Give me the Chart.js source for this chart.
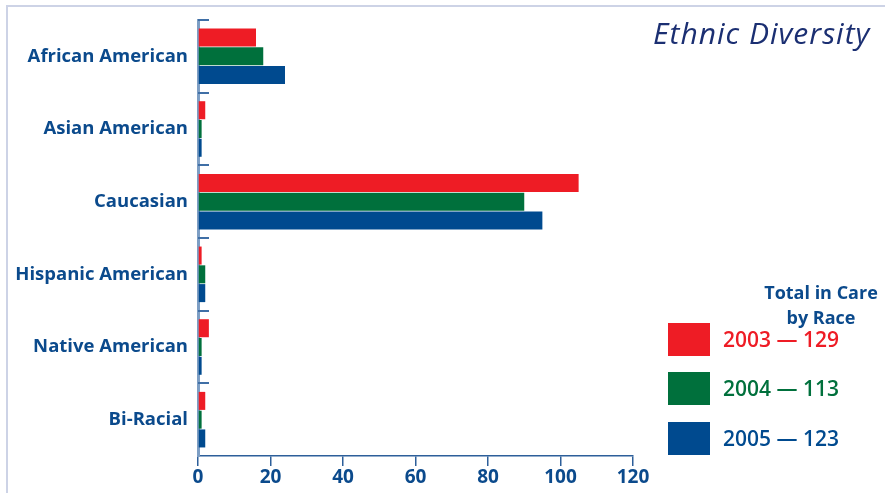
<!DOCTYPE html>
<html>
<head>
<meta charset="utf-8">
<script src="https://cdn.jsdelivr.net/npm/chart.js@4"></script>
<style>
  html, body { margin: 0; padding: 0; background: #fff; }
  #wrap { position: relative; width: 885px; height: 493px; font-family: "Open Sans", Lato, sans-serif; overflow: hidden; }
  #frame { position: absolute; left: 6px; top: 5px; right: -2px; bottom: -2px; border-top: 2px solid #cdd3e6; border-left: 2px solid #cdd3e6; }
  #c { position: absolute; left: 0; top: 0; }
  .title { position: absolute; left: 653px; top: 18px; font-size: 30px; line-height: 30px; letter-spacing: 1px; font-style: italic; color: #1b2f72; white-space: nowrap; }
  .lg-head { position: absolute; left: 741px; top: 280px; width: 160px; text-align: center; font-size: 18px; font-weight: bold; color: #0b4a8c; line-height: 25px; }
  .lg-row { position: absolute; left: 668px; height: 33px; }
  .lg-row i { position: absolute; left: 0; top: 0; width: 42px; height: 33px; }
  .lg-row b { position: absolute; left: 55px; top: 2px; font-size: 21px; white-space: nowrap; font-weight: 600; }
</style>
</head>
<body>
<div id="wrap">
  <div id="frame"></div>
  <canvas id="c" width="885" height="493"></canvas>
  <div class="title">Ethnic Diversity</div>
  <div class="lg-head">Total in Care<br>by Race</div>
  <div id="legend"></div>
</div>
<script>
// 카테고리와 연도별 값
const races = ['African American', 'Asian American', 'Caucasian', 'Hispanic American', 'Native American', 'Bi-Racial'];
const years = ['2003', '2004', '2005'];
const totals = [129, 113, 123];
const counts2003 = [16, 2, 105, 1, 3, 2];
const counts2004 = [18, 1, 90, 2, 1, 1];
const counts2005 = [24, 1, 95, 2, 1, 2];
const xTicks = [0, 20, 40, 60, 80, 100, 120];

const colors = ['#ee1c25', '#00703c', '#004a8f'];
const textBlue = '#0b4a8c';

// 범례 (HTML)
const legendEl = document.getElementById('legend');
const legendTops = [323, 372, 422];
years.forEach((y, i) => {
    const row = document.createElement('div');
    row.className = 'lg-row';
    row.style.top = legendTops[i] + 'px';
    row.innerHTML = `<i style="background:${colors[i]}"></i><b style="color:${colors[i]}">${y} \u2014 ${totals[i]}</b>`;
    legendEl.appendChild(row);
});

// 카테고리 경계에 안쪽으로 짧은 눈금
const innerTicks = {
    id: 'innerTicks',
    afterDraw(chart) {
        const y = chart.scales.y;
        const ctx = chart.ctx;
        const step = (y.bottom - y.top) / races.length;
        ctx.save();
        ctx.strokeStyle = '#3f6fa6';
        ctx.lineWidth = 2;
        for (let i = 0; i < races.length; i++) {
            const py = Math.round(y.top + i * step);
            ctx.beginPath();
            ctx.moveTo(y.right, py);
            ctx.lineTo(y.right + 11, py);
            ctx.stroke();
        }
        ctx.restore();
    }
};

const sets = [counts2003, counts2004, counts2005];
new Chart(document.getElementById('c'), {
    type: 'bar',
    data: {
        labels: races,
        datasets: sets.map((d, i) => ({
            label: years[i],
            data: d,
            backgroundColor: colors[i],
            borderWidth: 0,
            categoryPercentage: 0.775,
            barPercentage: 0.96
        }))
    },
    options: {
        indexAxis: 'y',
        responsive: false,
        animation: false,
        layout: { padding: { top: 20, right: 252, left: 0, bottom: 0 } },
        plugins: { legend: { display: false }, tooltip: { enabled: false } },
        scales: {
            x: {
                min: 0,
                max: 120,
                afterBuildTicks: s => { s.ticks = xTicks.map(v => ({ value: v })); },
                afterFit: s => { s.height = 37; },
                border: { color: '#2d5f9a', width: 1.5 },
                grid: { drawOnChartArea: false, color: '#2d5f9a', tickLength: 10, lineWidth: 1.5 },
                ticks: {
                    color: textBlue,
                    padding: 0,
                    font: { family: 'Open Sans', size: 19, weight: 'bold' }
                }
            },
            y: {
                afterFit: s => { s.width = 198; },
                border: { color: '#7d9ec4', width: 3 },
                grid: { display: false },
                ticks: {
                    color: textBlue,
                    padding: 2,
                    font: { family: 'Open Sans', size: 18.5, weight: 'bold' }
                }
            }
        }
    },
    plugins: [innerTicks]
});
</script>
</body>
</html>
